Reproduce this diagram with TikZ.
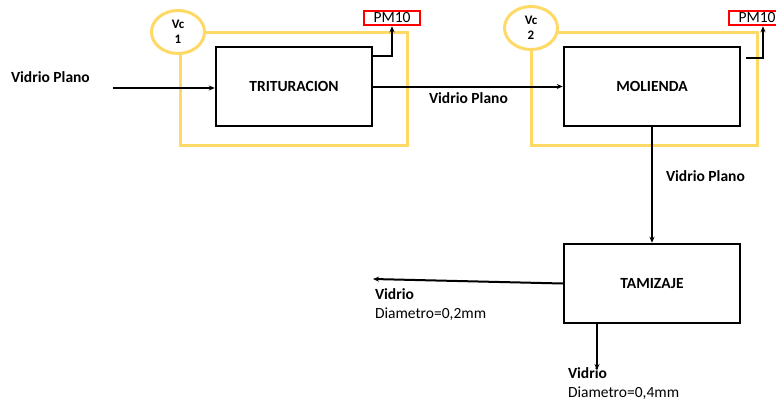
\documentclass[tikz,border=0pt]{standalone}
\usepackage{fontspec}
\setmainfont{Carlito}
\usetikzlibrary{arrows.meta,shapes.geometric}
\begin{document}
\begin{tikzpicture}[x=1pt, y=-1pt, >={Stealth[length=6pt,width=5pt]}, line width=2pt,
		font=\fontsize{15.5}{18}\selectfont,
		proc/.style={draw, line width=2.5pt, minimum width=156, minimum height=79, font=\fontsize{15.5}{18}\selectfont\bfseries},
		vol/.style={draw=volline, line width=3pt, fill=white, ellipse, minimum width=53, minimum height=43, inner sep=0pt, align=center, font=\fontsize{13}{14}\selectfont\bfseries},
		pm/.style={draw=red, line width=2.5pt, minimum width=56, minimum height=14, inner sep=0pt},
		lbl/.style={anchor=west, inner sep=0pt, font=\fontsize{15.5}{18}\selectfont\bfseries},
		txt/.style={anchor=west, inner sep=0pt}]
		\definecolor{volline}{RGB}{255,217,102}
		\useasboundingbox (0,0) rectangle (776,402);
		% volumenes de control
		\draw[volline, line width=3pt] (180,32) rectangle (407,145);
		\draw[volline, line width=3pt] (531,32) rectangle (757,145);
		\node[vol] (V1) at (178,32) {Vc\\[1pt]1};
		\node[vol] (V2) at (531,28) {Vc\\[1pt]2};
		% procesos
		\node[proc] (T) at (294,86.5) {TRITURACION};
		\node[proc, minimum width=176] (M) at (652,86.5) {MOLIENDA};
		\node[proc, minimum width=176] (Z) at (652,283.5) {TAMIZAJE};
		\node[pm] (P1) at (392,18) {PM10};
		\node[pm] (P2) at (757,18) {PM10};
		\coordinate (in) at (113,88);
		\coordinate (out1) at (373,279);
		\coordinate (out2) at (597,370);
		\draw[->] (in) -- (in -| T.west);
		\draw[->] (T.east) -- (M.west);
		\draw[->] (M) -- (Z);
		\draw[->] ([yshift=-10]T.north east) -| (P1.south);
		\draw[->] ([xshift=5,yshift=-12]M.north east) -| ([xshift=6]P2.south);
		\draw[->] (Z.west) -- (out1);
		\draw[->] ([xshift=-55]Z.south) -- (out2);
		% etiquetas
		\node[lbl] (L1) at (10,77) {Vidrio Plano};
		\node[lbl] (L2) at (428,98) {Vidrio Plano};
		\node[lbl] (L3) at (665,176) {Vidrio Plano};
		\node[lbl] (L4) at (374,294) {Vidrio};
		\node[txt] (D4) at (374,314) {Diametro=0,2mm};
		\node[lbl] (L5) at (567,373) {Vidrio};
		\node[txt] (D5) at (567,393) {Diametro=0,4mm};
	\end{tikzpicture}
\end{document}
